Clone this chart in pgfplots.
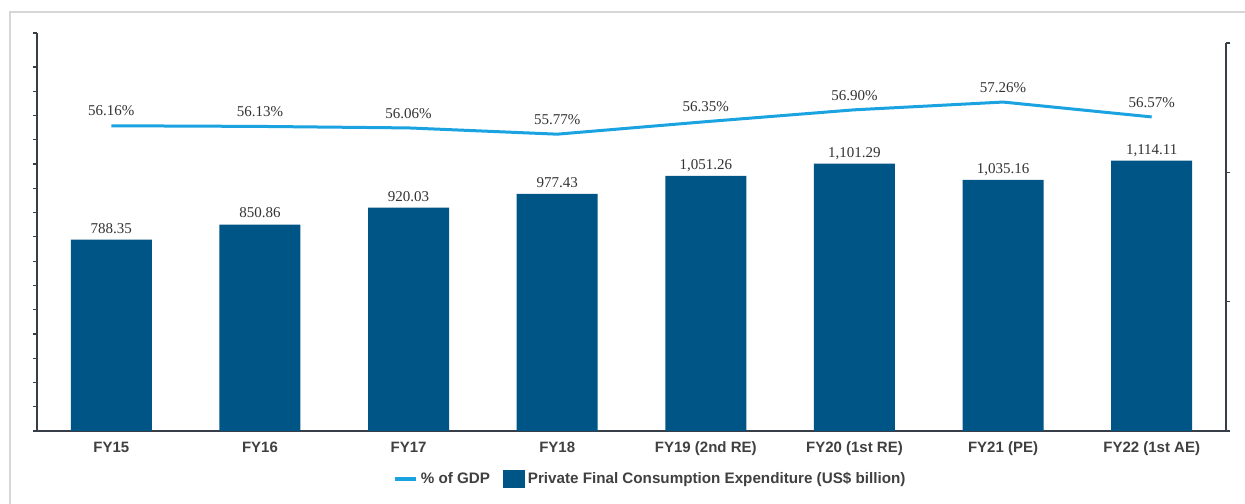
\documentclass[border=0pt]{standalone}
\usepackage{fontspec}
\setmainfont{Liberation Serif}
\setsansfont{Liberation Sans}
\usepackage{pgfplots}
\pgfplotsset{compat=1.18}
\definecolor{barc}{RGB}{0,85,135}
\definecolor{linec}{RGB}{26,163,224}
\definecolor{axc}{RGB}{55,62,72}
\definecolor{txtc}{RGB}{64,64,64}
\definecolor{lblc}{RGB}{51,51,51}
\definecolor{framec}{RGB}{214,214,214}
\begin{document}
\begin{tikzpicture}
\clip (0,0) rectangle (622.5bp,252bp);
\fill[white] (0,0) rectangle (622.5bp,252bp);
\draw[framec, line width=1bp] (5bp,-20bp) rectangle (650bp,246bp);
\begin{axis}[
  at={(18.5bp,36.5bp)}, anchor=south west,
  scale only axis, width=594.5bp, height=199bp,
  xmin=-0.5, xmax=7.5, ymin=0, ymax=1640,
  axis x line*=bottom, axis y line*=left,
  axis line style={axc, line width=0.6bp},
  xtick={0,...,7},
  xticklabels={FY15,FY16,FY17,FY18,{FY19 (2nd RE)},{FY20 (1st RE)},{FY21 (PE)},{FY22 (1st AE)}},
  x tick style={draw=none},
  xticklabel style={font=\fontsize{7.5bp}{9bp}\selectfont\sffamily\bfseries, text=txtc},
  ytick={0,100,...,1500,1640}, yticklabels={},
  y tick style={axc, line width=0.6bp},
  tick align=outside, major tick length=2bp,
]
\addplot[ybar, bar width=40.5bp, fill=barc, draw=none,
  point meta=explicit symbolic, nodes near coords,
  nodes near coords style={anchor=base, yshift=3.3bp, font=\fontsize{7.5bp}{9bp}\selectfont\rmfamily, text=lblc}]
  coordinates {
  (0,788.35)[788.35]
  (1,850.86)[850.86]
  (2,920.03)[920.03]
  (3,977.43)[977.43]
  (4,1051.26)[1,051.26]
  (5,1101.29)[1,101.29]
  (6,1035.16)[1,035.16]
  (7,1114.11)[1,114.11]
  };
\end{axis}
\begin{axis}[
  at={(18.5bp,36.5bp)}, anchor=south west,
  scale only axis, width=594.5bp, height=194bp,
  xmin=-0.5, xmax=7.5, ymin=42, ymax=60,
  axis y line*=right, axis x line=none,
  axis line style={axc, line width=0.6bp},
  ytick={42,48,54,60}, yticklabels={},
  y tick style={axc, line width=0.6bp},
  tick align=outside, major tick length=2bp,
  legend style={at={(0.5164,-0.1237)}, anchor=center, draw=none, fill=none,
    legend columns=-1, font=\fontsize{7.6bp}{9bp}\selectfont\sffamily\bfseries, text=txtc,
    nodes={inner sep=1.5bp},
    /tikz/every even column/.append style={column sep=5bp}},
]
\addplot[linec, line width=1.5bp,
  point meta=explicit symbolic, nodes near coords,
  nodes near coords style={anchor=base, yshift=4.9bp, font=\fontsize{7.5bp}{9bp}\selectfont\rmfamily, text=lblc},
  legend image code/.code={\draw[linec, line width=1.6bp] (0bp,0bp) -- (10.5bp,0bp);}]
  coordinates {
  (0,56.16)[56.16\%]
  (1,56.13)[56.13\%]
  (2,56.06)[56.06\%]
  (3,55.77)[55.77\%]
  (4,56.35)[56.35\%]
  (5,56.90)[56.90\%]
  (6,57.26)[57.26\%]
  (7,56.57)[56.57\%]
  };
\addlegendentry{\% of GDP}
\addlegendimage{legend image code/.code={\fill[barc] (0bp,-4.2bp) rectangle (10.5bp,4.2bp);}}
\addlegendentry{Private Final Consumption Expenditure (US\$ billion)}
\end{axis}
\end{tikzpicture}
\end{document}
